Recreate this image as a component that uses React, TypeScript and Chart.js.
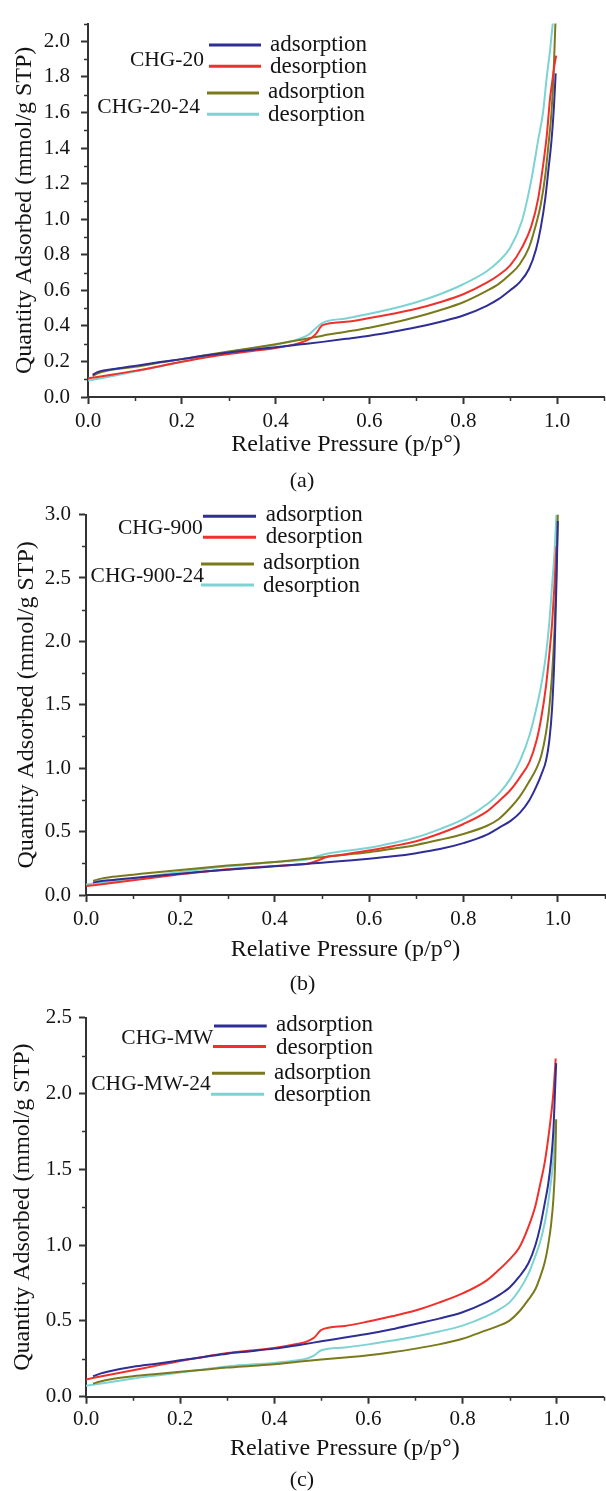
import React, { useEffect, useRef } from 'react';
import { Chart, registerables } from 'chart.js';

Chart.register(...registerables);

// ---------------- data ----------------
// Panel (a)
const A_ADS_P = [0.01, 0.02, 0.04, 0.07, 0.1, 0.15, 0.2, 0.25, 0.3, 0.35, 0.4, 0.45, 0.5, 0.55, 0.6, 0.65, 0.7, 0.75, 0.8, 0.85, 0.875, 0.9, 0.92, 0.94, 0.955, 0.965, 0.975, 0.982, 0.988, 0.993, 0.997];
const CHG20_ADS = [0.125, 0.14, 0.152, 0.163, 0.175, 0.195, 0.213, 0.233, 0.25, 0.266, 0.28, 0.295, 0.31, 0.327, 0.345, 0.367, 0.392, 0.422, 0.458, 0.513, 0.55, 0.6, 0.645, 0.72, 0.83, 0.95, 1.12, 1.29, 1.44, 1.62, 1.82];
const CHG20_24_ADS = [0.118, 0.132, 0.148, 0.16, 0.17, 0.192, 0.213, 0.235, 0.256, 0.276, 0.297, 0.32, 0.345, 0.367, 0.39, 0.418, 0.45, 0.488, 0.533, 0.597, 0.635, 0.69, 0.745, 0.84, 0.97, 1.08, 1.25, 1.43, 1.6, 1.85, 2.15];
const A_DES_P = [0.0, 0.05, 0.1, 0.15, 0.2, 0.25, 0.3, 0.35, 0.4, 0.45, 0.47, 0.485, 0.5, 0.55, 0.6, 0.65, 0.7, 0.75, 0.8, 0.85, 0.875, 0.9, 0.925, 0.945, 0.96, 0.97, 0.978, 0.985, 0.99, 0.994, 0.998];
const CHG20_DES = [0.105, 0.125, 0.147, 0.172, 0.198, 0.222, 0.242, 0.259, 0.275, 0.303, 0.322, 0.352, 0.404, 0.423, 0.444, 0.468, 0.496, 0.533, 0.578, 0.643, 0.685, 0.74, 0.84, 0.96, 1.12, 1.3, 1.47, 1.68, 1.78, 1.86, 1.92];
const CHG20_24_DES = [0.092, 0.117, 0.143, 0.17, 0.198, 0.226, 0.253, 0.274, 0.294, 0.327, 0.35, 0.385, 0.417, 0.442, 0.468, 0.498, 0.533, 0.578, 0.634, 0.707, 0.762, 0.84, 0.99, 1.22, 1.45, 1.6, 1.8, 1.95, 2.08, 2.2, 2.35];

// Panel (b)
const B_ADS_P = [0.015, 0.03, 0.05, 0.1, 0.15, 0.2, 0.25, 0.3, 0.35, 0.4, 0.45, 0.5, 0.55, 0.6, 0.65, 0.7, 0.75, 0.8, 0.85, 0.875, 0.9, 0.92, 0.94, 0.955, 0.965, 0.975, 0.982, 0.988, 0.993, 0.997, 1.0];
const CHG900_ADS = [0.098, 0.108, 0.117, 0.135, 0.152, 0.168, 0.185, 0.2, 0.213, 0.226, 0.24, 0.255, 0.27, 0.286, 0.305, 0.33, 0.362, 0.409, 0.476, 0.53, 0.585, 0.65, 0.75, 0.86, 0.95, 1.06, 1.22, 1.48, 1.9, 2.45, 2.95];
const CHG900_24_ADS = [0.112, 0.127, 0.14, 0.16, 0.18, 0.198, 0.215, 0.232, 0.246, 0.26, 0.279, 0.298, 0.318, 0.338, 0.365, 0.395, 0.435, 0.481, 0.546, 0.6, 0.69, 0.78, 0.9, 1.0, 1.1, 1.28, 1.48, 1.75, 2.1, 2.55, 3.0];
const B_DES_P = [0.0, 0.05, 0.1, 0.15, 0.2, 0.25, 0.3, 0.35, 0.4, 0.45, 0.47, 0.49, 0.51, 0.53, 0.6, 0.65, 0.7, 0.75, 0.8, 0.85, 0.875, 0.9, 0.92, 0.94, 0.955, 0.965, 0.975, 0.982, 0.988, 0.993, 0.997];
const CHG900_DES = [0.07, 0.093, 0.117, 0.14, 0.164, 0.184, 0.203, 0.216, 0.229, 0.24, 0.247, 0.27, 0.3, 0.312, 0.351, 0.385, 0.424, 0.485, 0.56, 0.66, 0.74, 0.83, 0.93, 1.05, 1.22, 1.4, 1.65, 1.9, 2.15, 2.45, 2.75];
const CHG900_24_DES = [0.083, 0.105, 0.13, 0.156, 0.182, 0.205, 0.226, 0.243, 0.26, 0.273, 0.281, 0.305, 0.325, 0.338, 0.372, 0.41, 0.455, 0.52, 0.598, 0.716, 0.8, 0.92, 1.06, 1.26, 1.48, 1.66, 1.9, 2.15, 2.45, 2.7, 3.0];

// Panel (c)
const C_ADS_P = [0.015, 0.03, 0.05, 0.1, 0.15, 0.2, 0.25, 0.3, 0.35, 0.4, 0.45, 0.5, 0.55, 0.6, 0.65, 0.7, 0.75, 0.8, 0.85, 0.875, 0.9, 0.92, 0.94, 0.955, 0.965, 0.975, 0.982, 0.988, 0.993, 0.997, 0.999];
const CHGMW_ADS = [0.135, 0.152, 0.168, 0.197, 0.218, 0.24, 0.262, 0.284, 0.3, 0.317, 0.34, 0.365, 0.39, 0.415, 0.445, 0.48, 0.515, 0.557, 0.622, 0.665, 0.72, 0.79, 0.88, 1.0, 1.12, 1.28, 1.4, 1.55, 1.75, 2.05, 2.2];
const CHGMW_24_ADS = [0.087, 0.1, 0.114, 0.135, 0.15, 0.164, 0.178, 0.192, 0.203, 0.214, 0.23, 0.245, 0.258, 0.273, 0.293, 0.317, 0.345, 0.382, 0.437, 0.465, 0.502, 0.56, 0.64, 0.71, 0.79, 0.89, 1.0, 1.13, 1.3, 1.55, 1.83];
const C_DES_P = [0.0, 0.05, 0.1, 0.15, 0.2, 0.25, 0.3, 0.35, 0.4, 0.45, 0.47, 0.485, 0.5, 0.55, 0.6, 0.65, 0.7, 0.75, 0.8, 0.85, 0.875, 0.9, 0.92, 0.94, 0.955, 0.965, 0.975, 0.982, 0.988, 0.993, 0.998];
const CHGMW_DES = [0.114, 0.145, 0.175, 0.205, 0.236, 0.262, 0.288, 0.305, 0.321, 0.349, 0.365, 0.39, 0.441, 0.467, 0.496, 0.53, 0.568, 0.62, 0.681, 0.764, 0.83, 0.906, 0.98, 1.12, 1.26, 1.4, 1.55, 1.7, 1.85, 2.0, 2.23];
const CHGMW_24_DES = [0.072, 0.096, 0.12, 0.14, 0.159, 0.18, 0.2, 0.212, 0.223, 0.24, 0.252, 0.272, 0.306, 0.325, 0.345, 0.37, 0.397, 0.43, 0.469, 0.53, 0.57, 0.622, 0.7, 0.81, 0.93, 1.02, 1.15, 1.28, 1.42, 1.56, 1.82];

const SERIES_LABELS = ['adsorption', 'desorption', 'adsorption', 'desorption'];
const GROUPS_A = ['CHG-20', 'CHG-20-24'];
const GROUPS_B = ['CHG-900', 'CHG-900-24'];
const GROUPS_C = ['CHG-MW', 'CHG-MW-24'];
const CAPTIONS = ['(a)', '(b)', '(c)'];
const X_TITLE = 'Relative Pressure (p/p°)';
const Y_TITLE = 'Quantity Adsorbed (mmol/g STP)';

// ---------------- styles ----------------
const FONT = '"Liberation Serif", "Times New Roman", serif';
const AXIS = '#333333';
const TEXT = '#141414';
const COLORS = ['#2E2E96', '#F0302A', '#7A7A1C', '#7DD3D3'];

type LegendItem = { x1: number; x2: number; y: number; tx: number; ty: number };
type Spec = {
  top: number;
  height: number;
  pad: { top: number; left: number; right: number; bottom: number };
  yW: number;
  xH: number;
  xTickPad: number;
  yTickPad: number;
  xTitlePad: number;
  yTitlePad: number;
  yMax: number;
  yStep: number;
  caption: string;
  groups: string[];
  series: { p: number[]; v: number[] }[];
  items: LegendItem[];
  groupPos: { x: number; y: number }[];
};

const SPECS: Spec[] = [
  {
    top: 0, height: 494,
    pad: { top: 16, left: 0, right: 2, bottom: 2 },
    yW: 88, xH: 73, xTickPad: 5, yTickPad: 11, xTitlePad: 10.6, yTitlePad: 10.4,
    yMax: 2.1, yStep: 0.2, caption: CAPTIONS[0], groups: GROUPS_A,
    series: [
      { p: A_ADS_P, v: CHG20_ADS },
      { p: A_DES_P, v: CHG20_DES },
      { p: A_ADS_P, v: CHG20_24_ADS },
      { p: A_DES_P, v: CHG20_24_DES },
    ],
    items: [
      { x1: 121, x2: 173, y: 21.3, tx: 182, ty: 21.6 },
      { x1: 121, x2: 173, y: 42.7, tx: 182, ty: 43.3 },
      { x1: 119, x2: 171, y: 69.3, tx: 180, ty: 68.3 },
      { x1: 119, x2: 171, y: 90.7, tx: 180, ty: 91 },
    ],
    groupPos: [{ x: 116, y: 36.6 }, { x: 112, y: 83.9 }],
  },
  {
    top: 494, height: 504,
    pad: { top: 16.7, left: 0, right: 1, bottom: 3 },
    yW: 86, xH: 78, xTickPad: 4.6, yTickPad: 8, xTitlePad: 9.1, yTitlePad: 12.4,
    yMax: 3.0, yStep: 0.5, caption: CAPTIONS[1], groups: GROUPS_B,
    series: [
      { p: B_ADS_P, v: CHG900_ADS },
      { p: B_DES_P, v: CHG900_DES },
      { p: B_ADS_P, v: CHG900_24_ADS },
      { p: B_DES_P, v: CHG900_24_DES },
    ],
    items: [
      { x1: 117, x2: 170, y: 1.6, tx: 179.7, ty: 0.8 },
      { x1: 117, x2: 170, y: 22.6, tx: 179.7, ty: 22.6 },
      { x1: 115, x2: 168, y: 49.3, tx: 177, ty: 48 },
      { x1: 115, x2: 168, y: 70.3, tx: 177, ty: 70.9 },
    ],
    groupPos: [{ x: 116.7, y: 13.6 }, { x: 118, y: 61.9 }],
  },
  {
    top: 998, height: 493,
    pad: { top: 17, left: 0, right: 2.3, bottom: 0 },
    yW: 86, xH: 72.3, xTickPad: 3, yTickPad: 7, xTitlePad: 5.7, yTitlePad: 8,
    yMax: 2.5, yStep: 0.5, caption: CAPTIONS[2], groups: GROUPS_C,
    series: [
      { p: C_ADS_P, v: CHGMW_ADS },
      { p: C_DES_P, v: CHGMW_DES },
      { p: C_ADS_P, v: CHGMW_24_ADS },
      { p: C_DES_P, v: CHGMW_24_DES },
    ],
    items: [
      { x1: 128, x2: 180.7, y: 8.3, tx: 190, ty: 6.9 },
      { x1: 127, x2: 180, y: 29, tx: 190, ty: 30.3 },
      { x1: 126, x2: 179, y: 55.7, tx: 188, ty: 54.9 },
      { x1: 125, x2: 178, y: 76.7, tx: 188, ty: 77.6 },
    ],
    groupPos: [{ x: 127.3, y: 20.9 }, { x: 124.7, y: 66.9 }],
  },
];

// ---------------- plugins ----------------
const minorTicks = {
  id: 'minorTicks',
  afterDraw(chart: any, _args: any, opts: any) {
    const { ctx } = chart;
    const xs = chart.scales.x;
    const ys = chart.scales.y;
    ctx.save();
    ctx.strokeStyle = AXIS;
    ctx.lineWidth = 1.5;
    ctx.beginPath();
    const nx = Math.round((xs.max - xs.min) / opts.xStep);
    for (let i = 1; i <= nx; i += 2) {
      const px = Math.round(xs.getPixelForValue(xs.min + i * opts.xStep)) + 0.5;
      ctx.moveTo(px, xs.top);
      ctx.lineTo(px, xs.top + 4);
    }
    const ny = Math.round((ys.max - ys.min) / opts.yStep);
    for (let i = 1; i <= ny; i += 2) {
      const py = Math.round(ys.getPixelForValue(ys.min + i * opts.yStep)) + 0.5;
      ctx.moveTo(ys.right, py);
      ctx.lineTo(ys.right - 4, py);
    }
    ctx.stroke();
    ctx.restore();
  },
};

const isoLegend = {
  id: 'isoLegend',
  afterDraw(chart: any, _args: any, opts: any) {
    const { ctx, chartArea } = chart;
    const { left, top } = chartArea;
    ctx.save();
    ctx.font = `23px ${FONT}`;
    ctx.textBaseline = 'middle';
    opts.items.forEach((it: LegendItem, i: number) => {
      const ds = chart.data.datasets[i];
      ctx.strokeStyle = ds.borderColor;
      ctx.lineWidth = 3;
      ctx.beginPath();
      ctx.moveTo(left + it.x1, top + it.y);
      ctx.lineTo(left + it.x2, top + it.y);
      ctx.stroke();
      ctx.fillStyle = TEXT;
      ctx.textAlign = 'left';
      ctx.fillText(ds.label, left + it.tx, top + it.ty);
    });
    ctx.font = `21.5px ${FONT}`;
    ctx.textAlign = 'right';
    ctx.fillStyle = TEXT;
    opts.groups.forEach((g: string, i: number) => {
      const pos = opts.groupPos[i];
      ctx.fillText(g, left + pos.x, top + pos.y);
    });
    ctx.restore();
  },
};

function Panel({ spec }: { spec: Spec }) {
  const ref = useRef<HTMLCanvasElement>(null);
  useEffect(() => {
    const canvas = ref.current;
    if (!canvas) return;
    const datasets = spec.series.map((s, i) => ({
      label: SERIES_LABELS[i],
      data: s.p.map((p, j) => ({ x: p, y: s.v[j] })),
      borderColor: COLORS[i],
      backgroundColor: COLORS[i],
      borderWidth: 2,
      pointRadius: 0,
      cubicInterpolationMode: 'monotone',
      fill: false,
    }));
    const tickFont = { family: FONT, size: 21 };
    const titleFont = { family: FONT, size: 24 };
    const chart = new Chart(canvas, {
      type: 'line',
      data: { datasets },
      plugins: [minorTicks, isoLegend],
      options: {
        responsive: false,
        animation: false,
        devicePixelRatio: 1,
        layout: { padding: spec.pad },
        scales: {
          x: {
            type: 'linear',
            min: 0,
            max: 1.1,
            afterFit: (s: any) => { s.height = spec.xH; },
            ticks: {
              stepSize: 0.2,
              includeBounds: false,
              autoSkip: false,
              maxRotation: 0,
              padding: spec.xTickPad,
              font: tickFont,
              color: TEXT,
              callback: (v: any) => Number(v).toFixed(1),
            },
            grid: { drawOnChartArea: false, drawTicks: true, tickLength: 7, tickWidth: 2, tickColor: AXIS },
            border: { display: true, color: AXIS, width: 2 },
            title: {
              display: true,
              text: X_TITLE,
              font: titleFont,
              color: TEXT,
              padding: { top: 0, bottom: spec.xTitlePad },
            },
          },
          y: {
            type: 'linear',
            min: 0,
            max: spec.yMax,
            afterFit: (s: any) => { s.width = spec.yW; },
            ticks: {
              stepSize: spec.yStep,
              includeBounds: false,
              autoSkip: false,
              padding: spec.yTickPad,
              font: tickFont,
              color: TEXT,
              callback: (v: any) => Number(v).toFixed(1),
            },
            grid: { drawOnChartArea: false, drawTicks: true, tickLength: 7, tickWidth: 2, tickColor: AXIS },
            border: { display: true, color: AXIS, width: 2 },
            title: {
              display: true,
              text: Y_TITLE,
              font: titleFont,
              color: TEXT,
              padding: { top: spec.yTitlePad, bottom: 0 },
            },
          },
        },
        plugins: {
          legend: { display: false },
          tooltip: { enabled: false },
          title: {
            display: true,
            text: spec.caption,
            position: 'bottom',
            color: TEXT,
            font: { family: FONT, size: 22, weight: 'normal', lineHeight: 1 },
            padding: 0,
          },
          minorTicks: { xStep: 0.1, yStep: spec.yStep / 2 },
          isoLegend: { items: spec.items, groups: spec.groups, groupPos: spec.groupPos },
        } as any,
      },
    } as any);
    return () => chart.destroy();
  }, [spec]);
  return (
    <canvas
      ref={ref}
      width={606}
      height={spec.height}
      style={{ position: 'absolute', left: 0, top: spec.top, width: 606, height: spec.height, display: 'block' }}
    />
  );
}

export default function App() {
  return (
    <div style={{ position: 'absolute', left: 0, top: 0, width: 606, height: 1491, background: '#ffffff', overflow: 'hidden' }}>
      {SPECS.map((s, i) => (
        <Panel key={i} spec={s} />
      ))}
    </div>
  );
}
